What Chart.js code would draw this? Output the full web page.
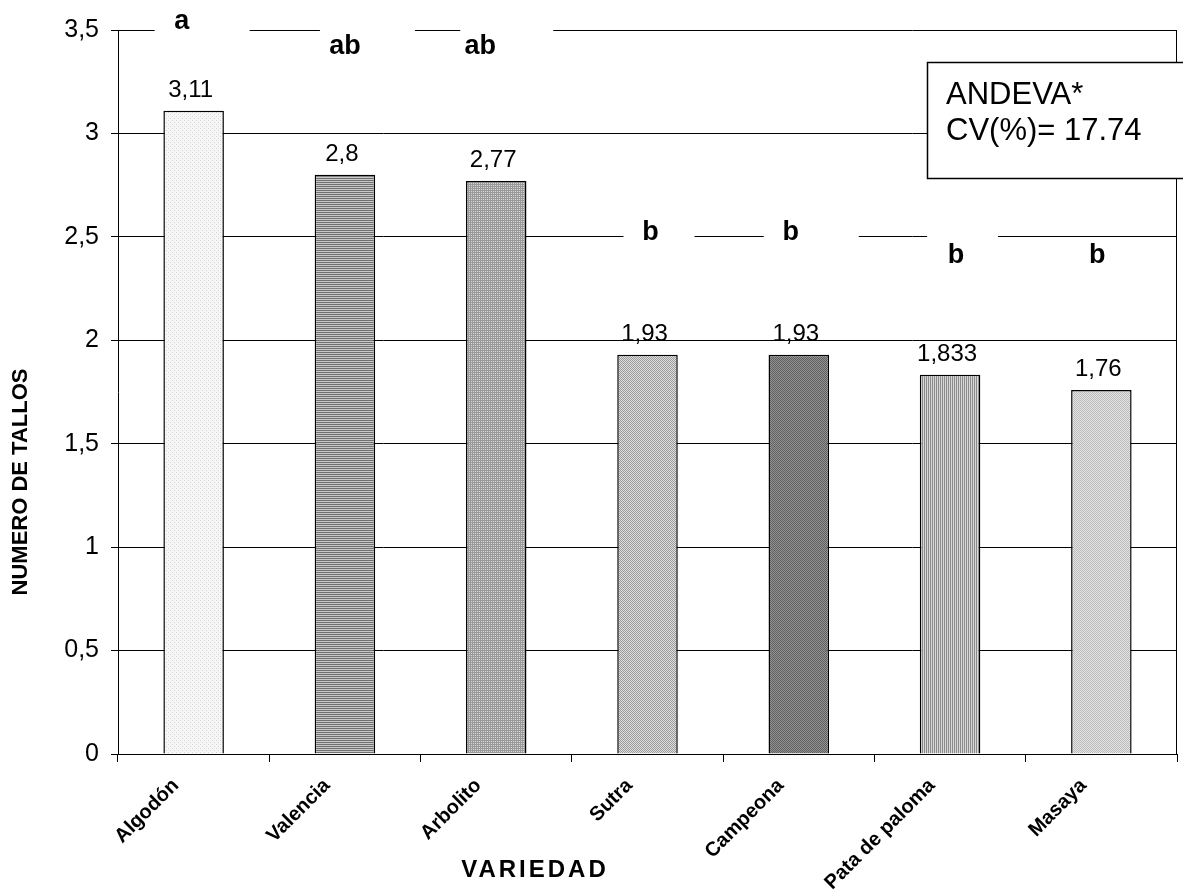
<!DOCTYPE html>
<html>
<head>
<meta charset="utf-8">
<script src="https://cdn.jsdelivr.net/npm/chart.js@4"></script>
<style>
  html, body { margin: 0; padding: 0; background: #fff; }
  #c { display: block; }
</style>
</head>
<body>
<canvas id="c" width="1183" height="889"></canvas>
<script>
// Número de tallos por variedad
const categories = ['Algodón', 'Valencia', 'Arbolito', 'Sutra', 'Campeona', 'Pata de paloma', 'Masaya'];
const tallos = [3.11, 2.8, 2.77, 1.93, 1.93, 1.833, 1.76];
const grupos = ['a', 'ab', 'ab', 'b', 'b', 'b', 'b'];
const yTicks = [0, 0.5, 1, 1.5, 2, 2.5, 3, 3.5];
const andeva = ['ANDEVA*', 'CV(%)= 17.74'];

const FONT = '"Liberation Sans", Arial, sans-serif';
const canvas = document.getElementById('c');
const ctx = canvas.getContext('2d');

// small tiled fills imitating the hatched bar patterns
function pattern(bg, fg, kind) {
  const t = document.createElement('canvas');
  t.width = 4; t.height = 4;
  const g = t.getContext('2d');
  g.fillStyle = bg; g.fillRect(0, 0, 4, 4);
  g.fillStyle = fg;
  if (kind === 'dots') {
    g.fillRect(0, 0, 1, 1); g.fillRect(2, 2, 1, 1);
  } else if (kind === 'checker') {
    for (let y = 0; y < 4; y++) for (let x = 0; x < 4; x++) if ((x + y) % 2 === 0) g.fillRect(x, y, 1, 1);
  } else if (kind === 'h') {
    g.fillRect(0, 0, 4, 1); g.fillRect(0, 2, 4, 1);
  } else if (kind === 'v') {
    g.fillRect(0, 0, 1, 4); g.fillRect(2, 0, 1, 4);
  } else if (kind === 'grid') {
    g.fillRect(0, 0, 4, 1); g.fillRect(0, 2, 4, 1);
    g.fillRect(0, 0, 1, 4); g.fillRect(2, 0, 1, 4);
  }
  return ctx.createPattern(t, 'repeat');
}

const fills = [
  pattern('#f6f6f6', '#d4d4d4', 'dots'),
  pattern('#c8c8c8', '#707070', 'h'),
  pattern('#d8d8d8', '#999999', 'grid'),
  pattern('#dedede', '#9a9a9a', 'checker'),
  pattern('#929292', '#606060', 'checker'),
  pattern('#d8d8d8', '#8a8a8a', 'v'),
  pattern('#e4e4e4', '#bcbcbc', 'checker')
];

// placement of the significance letters (offset from the bar centre, height in axis units)
const letterPlace = [
  { dx: -12, v: 3.54, box: [-39, 56] },
  { dx: 0,   v: 3.42, box: [-25, 70] },
  { dx: -16, v: 3.42, box: [-36, 57] },
  { dx: 3,   v: 2.52, box: [-24, 47] },
  { dx: -8,  v: 2.52, box: [-35, 60] },
  { dx: 6,   v: 2.41, box: [-23, 48] },
  { dx: -4,  v: 2.41, box: null }
];

const fmt = v => String(v).replace('.', ',');

const overlay = {
  id: 'overlay',
  afterDatasetsDraw(chart) {
    const c = chart.ctx;
    const a = chart.chartArea;
    const xs = chart.scales.x, ys = chart.scales.y;
    c.save();

    // right border of the plot area
    c.strokeStyle = '#000';
    c.lineWidth = 1;
    c.beginPath();
    c.moveTo(Math.round(a.right) - 0.5, a.top);
    c.lineTo(Math.round(a.right) - 0.5, a.bottom);
    c.stroke();

    // value labels
    const meta = chart.getDatasetMeta(0);
    c.fillStyle = '#000';
    c.font = '24px ' + FONT;
    c.textAlign = 'center';
    c.textBaseline = 'alphabetic';
    meta.data.forEach((bar, i) => {
      c.fillText(fmt(tallos[i]), bar.x - 3, bar.y - 14);
    });

    // significance letters on white boxes
    c.font = 'bold 27px ' + FONT;
    c.textBaseline = 'middle';
    grupos.forEach((g, i) => {
      const p = letterPlace[i];
      const cx = xs.getPixelForValue(i);
      const ty = ys.getPixelForValue(p.v);
      if (p.box) {
        c.fillStyle = '#fff';
        c.fillRect(cx + p.box[0], ty - 22, p.box[1] - p.box[0], 36);
      }
      c.fillStyle = '#000';
      c.fillText(g, cx + p.dx, ty);
    });

    // ANDEVA box
    const bx = 927.5, by = 62.5;
    c.fillStyle = '#fff';
    c.fillRect(bx, by, 300, 116);
    c.strokeStyle = '#000';
    c.lineWidth = 1.5;
    c.strokeRect(bx, by, 300, 116);
    c.fillStyle = '#000';
    c.font = '31px ' + FONT;
    c.textAlign = 'left';
    c.textBaseline = 'alphabetic';
    c.fillText(andeva[0], 946, 104);
    c.fillText(andeva[1], 946, 140);

    // axis titles
    c.font = 'bold 22px ' + FONT;
    c.textAlign = 'center';
    c.textBaseline = 'middle';
    c.save();
    c.translate(21, 482);
    c.rotate(-Math.PI / 2);
    c.fillText('NUMERO DE TALLOS', 0, 0);
    c.restore();

    c.font = 'bold 24px ' + FONT;
    if ('letterSpacing' in c) c.letterSpacing = '3px';
    c.fillText('VARIEDAD', 535, 870);
    if ('letterSpacing' in c) c.letterSpacing = '0px';

    c.restore();
  }
};

new Chart(ctx, {
  type: 'bar',
  data: {
    labels: categories,
    datasets: [{
      data: tallos,
      backgroundColor: fills,
      borderColor: '#000',
      borderWidth: 1.5,
      barPercentage: 0.4,
      categoryPercentage: 1
    }]
  },
  options: {
    responsive: false,
    animation: false,
    devicePixelRatio: 1,
    layout: { padding: { top: 30, right: 6, left: 0, bottom: 0 } },
    plugins: { legend: { display: false }, tooltip: { enabled: false } },
    scales: {
      x: {
        offset: true,
        grid: { offset: true, drawOnChartArea: false, color: '#000', tickLength: 8, lineWidth: 1 },
        border: { color: '#000', width: 1 },
        ticks: {
          color: '#000',
          font: { family: FONT, size: 20, weight: 'bold' },
          minRotation: 45, maxRotation: 45,
          padding: 12,
          labelOffset: -18,
          autoSkip: false
        },
        afterFit(s) { s.height = 135; }
      },
      y: {
        min: 0, max: 3.5,
        afterBuildTicks(s) { s.ticks = yTicks.map(v => ({ value: v })); },
        grid: { color: '#000', lineWidth: 1, tickLength: 7 },
        border: { color: '#000', width: 1 },
        ticks: {
          color: '#000',
          font: { family: FONT, size: 25 },
          padding: 12,
          callback: v => fmt(v)
        },
        afterFit(s) { s.width = 118; }
      }
    }
  },
  plugins: [overlay]
});
</script>
</body>
</html>
